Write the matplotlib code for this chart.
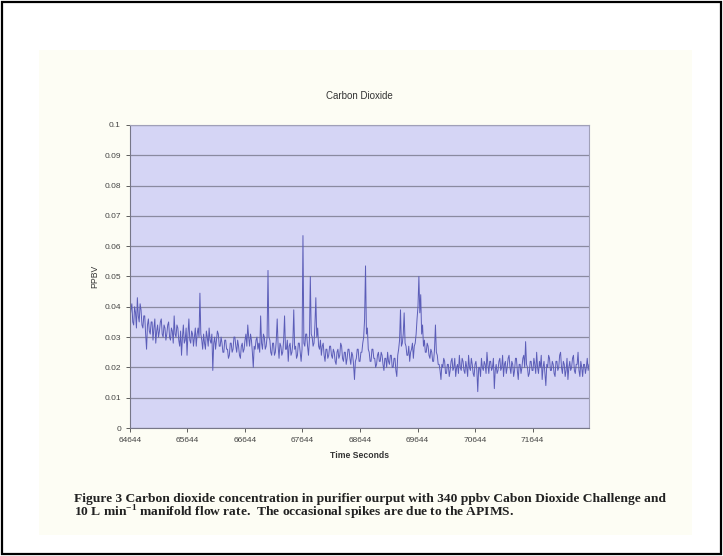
import matplotlib
matplotlib.use("Agg")
import matplotlib.pyplot as plt
from matplotlib.patches import Rectangle
import numpy as np

plt.rcParams["font.family"] = ["Liberation Sans", "DejaVu Sans"]
plt.rcParams["mathtext.fontset"] = "custom"
plt.rcParams["mathtext.rm"] = "Liberation Serif:bold"
plt.rcParams["mathtext.bf"] = "Liberation Serif:bold"

# sampling of the APIMS record
START_TIME = 64644
SAMPLE_STEP = 16  # seconds between readings

# CO2 concentration (ppbv) in five blocks of 100 readings
co2_block1 = [
    0.036, 0.039, 0.041, 0.035, 0.034, 0.040, 0.038, 0.033, 0.043, 0.037,
    0.035, 0.041, 0.039, 0.034, 0.033, 0.037, 0.037, 0.031, 0.026, 0.034,
    0.036, 0.032, 0.031, 0.035, 0.035, 0.029, 0.033, 0.036, 0.028, 0.032,
    0.034, 0.030, 0.032, 0.035, 0.036, 0.031, 0.030, 0.034, 0.033, 0.029,
    0.031, 0.034, 0.035, 0.030, 0.029, 0.033, 0.032, 0.028, 0.037, 0.031,
    0.030, 0.034, 0.033, 0.029, 0.027, 0.032, 0.024, 0.030, 0.034, 0.028,
    0.029, 0.033, 0.024, 0.031, 0.036, 0.029, 0.028, 0.032, 0.031, 0.027,
    0.030, 0.033, 0.027, 0.031, 0.033, 0.030, 0.0445, 0.031, 0.029, 0.026,
    0.031, 0.028, 0.026, 0.032, 0.030, 0.027, 0.033, 0.029, 0.028, 0.031,
    0.019, 0.028, 0.030, 0.026, 0.029, 0.032, 0.031, 0.027, 0.027, 0.030,
]
co2_block2 = [
    0.028, 0.025, 0.025, 0.029, 0.029, 0.026, 0.026, 0.023, 0.024, 0.028,
    0.028, 0.025, 0.026, 0.030, 0.030, 0.027, 0.025, 0.029, 0.027, 0.024,
    0.023, 0.027, 0.028, 0.025, 0.026, 0.029, 0.031, 0.027, 0.034, 0.030,
    0.027, 0.031, 0.029, 0.025, 0.020, 0.027, 0.026, 0.029, 0.030, 0.026,
    0.028, 0.025, 0.037, 0.028, 0.026, 0.031, 0.030, 0.026, 0.027, 0.030,
    0.052, 0.030, 0.029, 0.025, 0.024, 0.028, 0.028, 0.024, 0.025, 0.029,
    0.036, 0.027, 0.023, 0.028, 0.027, 0.024, 0.025, 0.029, 0.037, 0.026,
    0.026, 0.029, 0.022, 0.027, 0.028, 0.024, 0.025, 0.028, 0.039, 0.026,
    0.027, 0.023, 0.024, 0.028, 0.028, 0.025, 0.022, 0.026, 0.0635, 0.028,
    0.027, 0.031, 0.031, 0.027, 0.024, 0.029, 0.050, 0.031, 0.030, 0.027,
]
co2_block3 = [
    0.028, 0.034, 0.043, 0.030, 0.033, 0.027, 0.026, 0.029, 0.024, 0.027,
    0.028, 0.024, 0.022, 0.026, 0.026, 0.023, 0.024, 0.027, 0.027, 0.024,
    0.023, 0.026, 0.025, 0.022, 0.021, 0.025, 0.026, 0.023, 0.024, 0.028,
    0.027, 0.023, 0.022, 0.025, 0.025, 0.021, 0.023, 0.026, 0.026, 0.023,
    0.021, 0.025, 0.024, 0.021, 0.016, 0.022, 0.023, 0.026, 0.026, 0.022,
    0.022, 0.025, 0.025, 0.028, 0.030, 0.036, 0.0535, 0.031, 0.033, 0.026,
    0.025, 0.022, 0.022, 0.026, 0.026, 0.023, 0.023, 0.020, 0.021, 0.024,
    0.025, 0.022, 0.022, 0.025, 0.024, 0.021, 0.019, 0.023, 0.023, 0.020,
    0.025, 0.022, 0.021, 0.024, 0.024, 0.020, 0.020, 0.023, 0.023, 0.019,
    0.017, 0.024, 0.026, 0.029, 0.039, 0.027, 0.028, 0.031, 0.038, 0.028,
]
co2_block4 = [
    0.027, 0.024, 0.024, 0.027, 0.022, 0.025, 0.026, 0.028, 0.023, 0.027,
    0.028, 0.031, 0.036, 0.040, 0.050, 0.038, 0.044, 0.031, 0.034, 0.027,
    0.029, 0.025, 0.025, 0.028, 0.027, 0.024, 0.023, 0.026, 0.025, 0.022,
    0.022, 0.026, 0.034, 0.025, 0.024, 0.021, 0.021, 0.019, 0.016, 0.021,
    0.020, 0.023, 0.022, 0.018, 0.018, 0.021, 0.021, 0.017, 0.019, 0.022,
    0.023, 0.019, 0.020, 0.023, 0.017, 0.020, 0.021, 0.018, 0.024, 0.020,
    0.019, 0.023, 0.022, 0.019, 0.018, 0.022, 0.020, 0.017, 0.024, 0.020,
    0.019, 0.023, 0.021, 0.018, 0.017, 0.021, 0.022, 0.019, 0.012, 0.020,
    0.020, 0.017, 0.023, 0.020, 0.019, 0.022, 0.021, 0.018, 0.025, 0.021,
    0.018, 0.022, 0.022, 0.019, 0.020, 0.023, 0.013, 0.019, 0.021, 0.018,
]
co2_block5 = [
    0.019, 0.022, 0.023, 0.019, 0.020, 0.024, 0.017, 0.021, 0.022, 0.018,
    0.020, 0.023, 0.024, 0.020, 0.018, 0.022, 0.021, 0.017, 0.019, 0.023,
    0.023, 0.019, 0.016, 0.021, 0.021, 0.018, 0.020, 0.023, 0.024, 0.020,
    0.0285, 0.021, 0.020, 0.017, 0.018, 0.022, 0.022, 0.019, 0.019, 0.023,
    0.021, 0.018, 0.025, 0.020, 0.018, 0.022, 0.020, 0.024, 0.016, 0.020,
    0.022, 0.018, 0.014, 0.021, 0.020, 0.024, 0.023, 0.019, 0.019, 0.022,
    0.021, 0.018, 0.017, 0.022, 0.022, 0.019, 0.020, 0.024, 0.025, 0.020,
    0.018, 0.022, 0.021, 0.017, 0.019, 0.023, 0.016, 0.020, 0.022, 0.019,
    0.020, 0.023, 0.024, 0.019, 0.018, 0.021, 0.021, 0.025, 0.019, 0.017,
    0.022, 0.020, 0.017, 0.021, 0.021, 0.018, 0.020, 0.023, 0.019, 0.021,
]

x_ticks = [64644, 65644, 66644, 67644, 68644, 69644, 70644, 71644]
y_ticks = [0, 0.01, 0.02, 0.03, 0.04, 0.05, 0.06, 0.07, 0.08, 0.09, 0.1]

co2 = np.array(co2_block1 + co2_block2 + co2_block3 + co2_block4 + co2_block5)
times = START_TIME + SAMPLE_STEP * np.arange(len(co2))

fig = plt.figure(figsize=(7.23, 5.56), dpi=100)
fig.patch.set_facecolor("white")

# slide border and pale page, kept behind the axes
fig.patches.append(Rectangle((0.003, 0.004), 0.994, 0.992, transform=fig.transFigure,
                             fill=False, edgecolor="black", linewidth=1.6, zorder=-10))
fig.patches.append(Rectangle((0.054, 0.038), 0.903, 0.872, transform=fig.transFigure,
                             facecolor="#fdfdf4", edgecolor="none", zorder=-11))

ax = fig.add_axes([0.1798, 0.2302, 0.6349, 0.5450])
ax.set_facecolor("#d5d5f5")
ax.plot(times, co2, color="#5b5db8", linewidth=0.7)

ax.set_xlim(START_TIME, 72627)
ax.set_ylim(0, 0.1)
ax.set_xticks(x_ticks)
ax.set_xticklabels([str(t) for t in x_ticks])
ax.set_yticks(y_ticks)
ax.set_yticklabels([f"{v:g}" for v in y_ticks])
ax.grid(axis="y", color="#8a8aa0", linewidth=0.9)
ax.set_axisbelow(True)
ax.tick_params(labelsize=6, colors="#444444", length=3, width=0.6)

for side in ["top", "right"]:
    ax.spines[side].set_color("#a0a0b8")
    ax.spines[side].set_linewidth(0.8)
for side in ["left", "bottom"]:
    ax.spines[side].set_color("#777788")
    ax.spines[side].set_linewidth(0.8)

ax.set_xlabel("Time Seconds", fontsize=6.2, fontweight="bold", color="#333333", labelpad=5)
ax.set_ylabel("PPBV", fontsize=6.2, color="#333333", labelpad=4)
ax.set_title("Carbon Dioxide", fontsize=7, color="#333333", pad=19)

fig.text(0.102, 0.0971,
         "Figure 3 Carbon dioxide concentration in purifier ourput with 340 ppbv Cabon Dioxide Challenge and",
         family="Liberation Serif", fontweight="bold", fontsize=9.7, color="#222222")
fig.text(0.102, 0.0700,
         r"10 L min$^{-1}$ manifold flow rate.  The occasional spikes are due to the APIMS.",
         family="Liberation Serif", fontweight="bold", fontsize=9.7, color="#222222")

fig.savefig("out.png", dpi=100)
